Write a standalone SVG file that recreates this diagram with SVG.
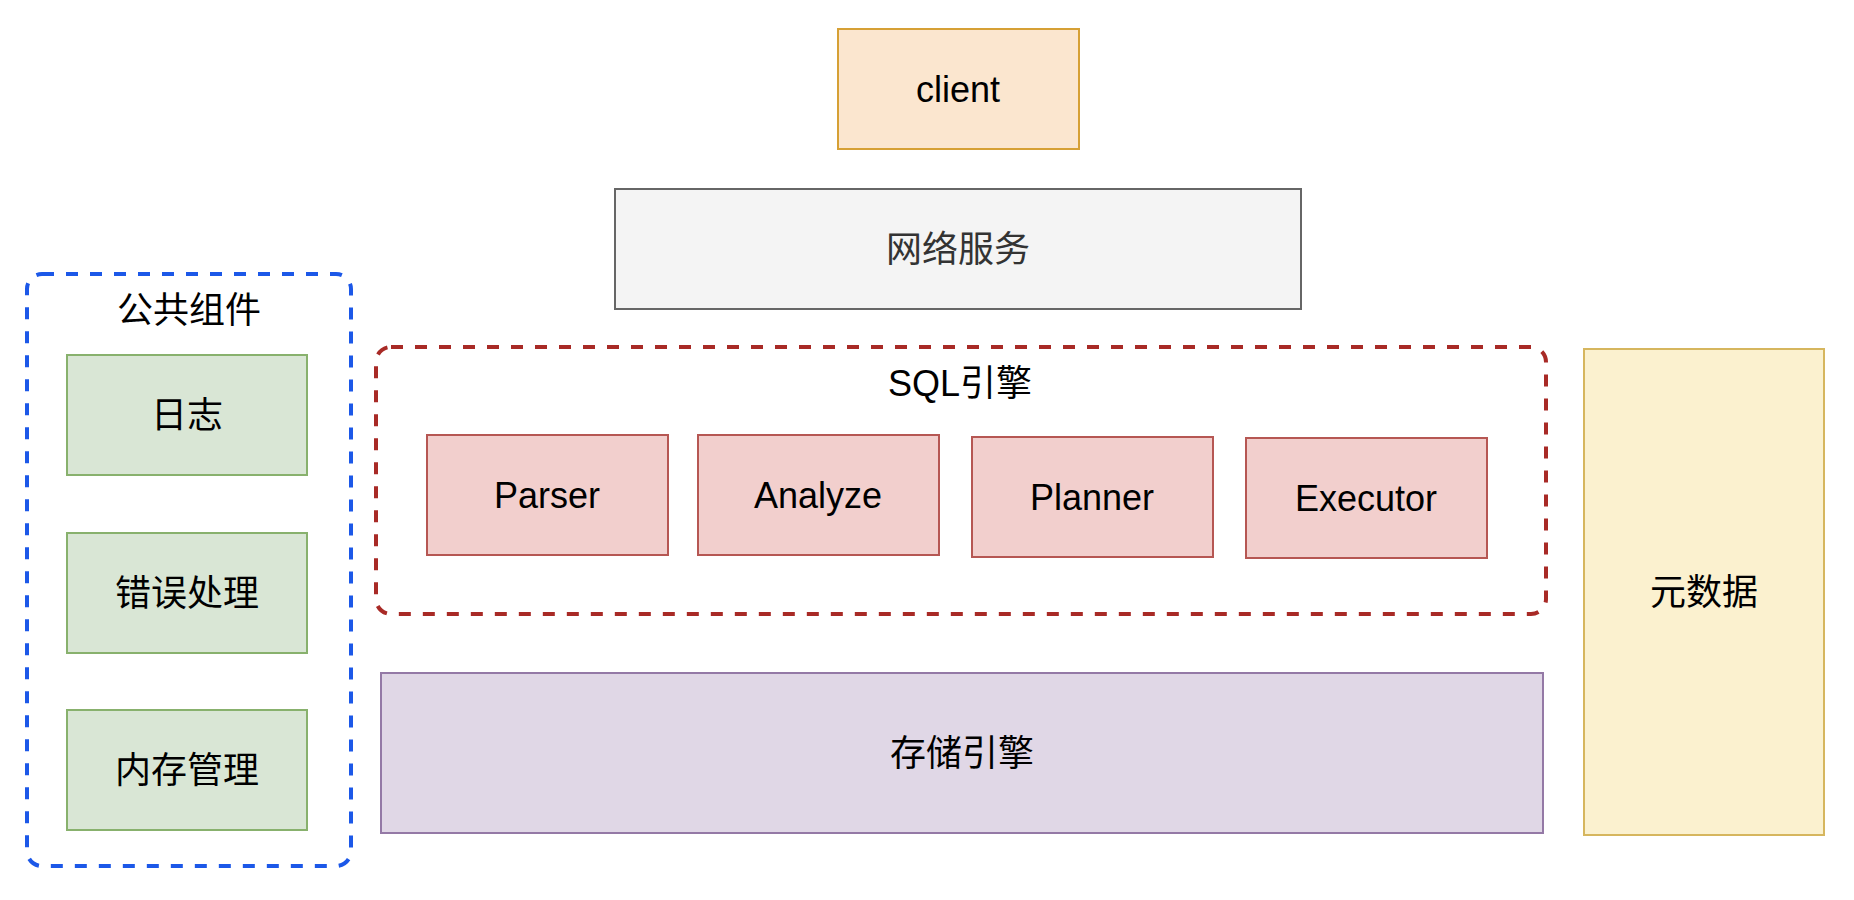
<svg xmlns="http://www.w3.org/2000/svg" width="1854" height="900" viewBox="0 0 1854 900">
<style>
  text { font-family: "Liberation Sans", Arial, "Noto Sans CJK SC", sans-serif; font-size: 36px; fill: #000; text-anchor: middle; }
  .box { stroke-width: 2; }
  .orange { fill: #fbe6cf; stroke: #d6a035; }
  .gray { fill: #f4f4f4; stroke: #666666; }
  .green { fill: #d9e6d5; stroke: #88b16d; }
  .pink { fill: #f2cfcd; stroke: #b65753; }
  .purple { fill: #e0d7e6; stroke: #9479a6; }
  .yellow { fill: #fbf1cf; stroke: #d6b65e; }
  .grp { fill: none; stroke-width: 4; stroke-dasharray: 12 12; }
  .blue { stroke: #1c58e8; }
  .red { stroke: #a82a26; }
</style>
<rect width="1854" height="900" fill="#ffffff"/>

<g id="client">
  <rect class="box orange" x="838" y="29" width="241" height="120"/>
  <text x="958" y="102">client</text>
</g>

<g id="network">
  <rect class="box gray" x="615" y="189" width="686" height="120"/>
  <text x="958" y="262" style="fill:#333333">网络服务</text>
</g>

<g id="common">
  <rect class="grp blue" x="27" y="274" width="324" height="592" rx="15" ry="15"/>
  <text x="189" y="323">公共组件</text>
</g>

<g id="log">
  <rect class="box green" x="67" y="355" width="240" height="120"/>
  <text x="187" y="428">日志</text>
</g>

<g id="error">
  <rect class="box green" x="67" y="533" width="240" height="120"/>
  <text x="187" y="606">错误处理</text>
</g>

<g id="memory">
  <rect class="box green" x="67" y="710" width="240" height="120"/>
  <text x="187" y="783">内存管理</text>
</g>

<g id="sql">
  <rect class="grp red" x="376" y="347" width="1170" height="267" rx="15" ry="15"/>
  <text x="960" y="396">SQL引擎</text>
</g>

<g id="parser">
  <rect class="box pink" x="427" y="435" width="241" height="120"/>
  <text x="547" y="508">Parser</text>
</g>

<g id="analyze">
  <rect class="box pink" x="698" y="435" width="241" height="120"/>
  <text x="818" y="508">Analyze</text>
</g>

<g id="planner">
  <rect class="box pink" x="972" y="437" width="241" height="120"/>
  <text x="1092" y="510">Planner</text>
</g>

<g id="executor">
  <rect class="box pink" x="1246" y="438" width="241" height="120"/>
  <text x="1366" y="511">Executor</text>
</g>

<g id="storage">
  <rect class="box purple" x="381" y="673" width="1162" height="160"/>
  <text x="962" y="766">存储引擎</text>
</g>

<g id="metadata">
  <rect class="box yellow" x="1584" y="349" width="240" height="486"/>
  <text x="1704" y="605">元数据</text>
</g>

<g id="connectors"/>
</svg>
